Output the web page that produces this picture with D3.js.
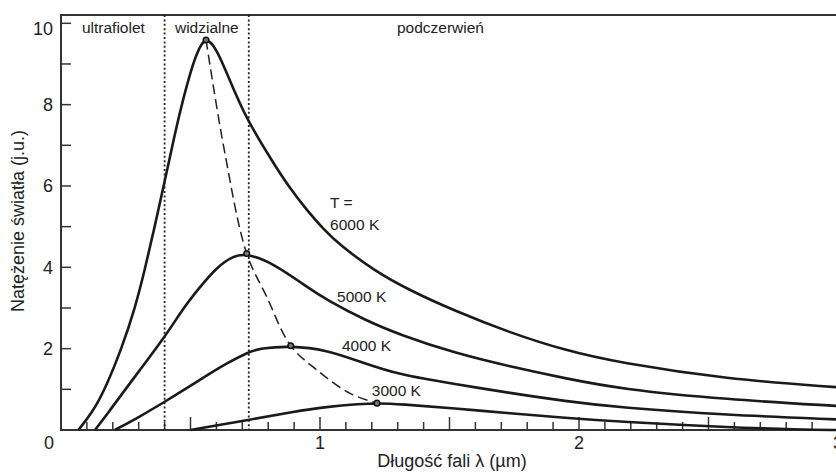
<!DOCTYPE html>
<html>
<head>
<meta charset="utf-8">
<script src="https://cdn.jsdelivr.net/npm/d3@7"></script>
<style>
  body { margin: 0; background: #fff; }
  svg text { font-family: "Liberation Sans", Arial, sans-serif; fill: #222; }
</style>
</head>
<body>
<svg id="chart" width="836" height="473"></svg>
<script>
// wavelength (um) / intensity (a.u.)
var curve6000 = [[0.067, 0], [0.12, 0.42], [0.17, 1.0], [0.234, 2.0], [0.286, 3.0], [0.324, 3.95],
  [0.36, 4.95], [0.40, 6.1], [0.44, 7.3], [0.472, 8.15], [0.50, 8.8], [0.524, 9.26],
  [0.545, 9.52], [0.56, 9.59], [0.583, 9.52], [0.614, 9.18], [0.678, 8.2], [0.723, 7.58],
  [0.82, 6.56], [0.884, 5.94], [0.949, 5.41], [1.013, 4.94], [1.077, 4.55], [1.206, 3.93],
  [1.347, 3.43], [1.52, 2.93], [1.73, 2.4], [1.95, 1.95], [2.15, 1.66], [2.57, 1.25], [3.0, 1.05]];
var curve5000 = [[0.131, 0], [0.189, 0.48], [0.248, 1.0], [0.402, 2.29], [0.472, 3.0], [0.537, 3.52],
  [0.601, 4.0], [0.665, 4.28], [0.717, 4.34], [0.82, 4.1], [0.949, 3.52], [1.026, 3.2],
  [1.174, 2.7], [1.309, 2.34], [1.521, 1.89], [1.734, 1.56], [1.946, 1.27], [2.158, 1.01],
  [2.568, 0.75], [3.0, 0.59]];
var curve4000 = [[0.208, 0], [0.305, 0.33], [0.402, 0.7], [0.479, 1.0], [0.575, 1.39], [0.64, 1.64],
  [0.722, 1.91], [0.768, 2.01], [0.887, 2.07], [1.026, 1.97], [1.154, 1.68], [1.309, 1.35],
  [1.521, 1.13], [1.734, 0.91], [1.946, 0.71], [2.158, 0.55], [2.568, 0.37], [3.0, 0.26]];
var curve3000 = [[0.5, 0], [0.726, 0.25], [0.897, 0.45], [1.026, 0.57], [1.154, 0.64], [1.22, 0.66],
  [1.309, 0.64], [1.521, 0.53], [1.734, 0.41], [1.946, 0.3], [2.158, 0.2], [2.568, 0.07],
  [2.853, 0.01], [3.0, 0]];

// peaks and the dashed line joining them
var peaks = [[0.56, 9.59], [0.717, 4.34], [0.887, 2.07], [1.22, 0.66]];
var wienLine = [[0.56, 9.59], [0.63, 6.9], [0.717, 4.34], [0.794, 3.28], [0.887, 2.07],
  [0.987, 1.48], [1.116, 0.9], [1.22, 0.66]];

var regionBounds = [0.4, 0.725];
var regionLabels = ["ultrafiolet", "widzialne", "podczerwień"];
var tempLabels = ["6000 K", "5000 K", "4000 K", "3000 K"];
var xTickLabels = [1, 2, 3];
var yTickLabels = [2, 4, 6, 8, 10];

var svg = d3.select("#chart");

var x = d3.scaleLinear().domain([0, 3]).range([61, 838]);
var y = d3.scaleLinear().domain([0, 10]).range([430, 23.3]);

// frame: top, left, bottom
svg.append("path")
  .attr("d", "M" + x(3) + "," + 15 + "H" + x(0) + "V" + y(0) + "H" + x(3))
  .attr("fill", "none")
  .attr("stroke", "#333")
  .attr("stroke-width", 2);

// x ticks pointing up (minor every 0.1, major every 0.5)
var xMinor = d3.range(1, 30).map(function(i) { return i / 10; });
svg.append("g")
  .selectAll("line")
  .data(xMinor)
  .enter()
  .append("line")
  .attr("x1", function(d) { return x(d); })
  .attr("x2", function(d) { return x(d); })
  .attr("y1", y(0))
  .attr("y2", function(d, i) { return (i + 1) % 5 === 0 ? y(0) - 13 : y(0) - 8; })
  .attr("stroke", "#333")
  .attr("stroke-width", 1.5);

// y ticks pointing right
svg.append("g")
  .selectAll("line")
  .data(d3.range(1, 11))
  .enter()
  .append("line")
  .attr("x1", x(0))
  .attr("x2", x(0) + 10)
  .attr("y1", function(d) { return y(d); })
  .attr("y2", function(d) { return y(d); })
  .attr("stroke", "#333")
  .attr("stroke-width", 1.5);

// tick labels
svg.append("g")
  .selectAll("text")
  .data(yTickLabels)
  .enter()
  .append("text")
  .attr("x", 53)
  .attr("y", function(d) { return y(d) + (d === 10 ? 5 : 0); })
  .attr("dy", "0.35em")
  .attr("text-anchor", "end")
  .style("font-size", "18px")
  .text(function(d) { return d; });

svg.append("text")
  .attr("x", 49)
  .attr("y", 443)
  .attr("dy", "0.35em")
  .attr("text-anchor", "middle")
  .style("font-size", "18px")
  .text("0");

svg.append("g")
  .selectAll("text")
  .data(xTickLabels)
  .enter()
  .append("text")
  .attr("x", function(d) { return x(d); })
  .attr("y", 443)
  .attr("dy", "0.35em")
  .attr("text-anchor", "middle")
  .style("font-size", "18px")
  .text(function(d) { return d; });

// axis titles
svg.append("text")
  .attr("x", 452)
  .attr("y", 467)
  .attr("text-anchor", "middle")
  .style("font-size", "18px")
  .text("Długość fali λ (µm)");

svg.append("text")
  .attr("transform", "translate(24,221) rotate(-90)")
  .attr("text-anchor", "middle")
  .style("font-size", "18px")
  .text("Natężenie światła (j.u.)");

// visible range boundaries
svg.append("g")
  .selectAll("line")
  .data(regionBounds)
  .enter()
  .append("line")
  .attr("x1", function(d) { return x(d); })
  .attr("x2", function(d) { return x(d); })
  .attr("y1", 15)
  .attr("y2", y(0))
  .attr("stroke", "#222")
  .attr("stroke-width", 1.8)
  .attr("stroke-dasharray", "2,2.4");

var regionX = [0.081, 0.44, 1.297];
svg.append("g")
  .selectAll("text")
  .data(regionLabels)
  .enter()
  .append("text")
  .attr("x", function(d, i) { return x(regionX[i]); })
  .attr("y", 33)
  .style("font-size", "15.5px")
  .text(function(d) { return d; });

// wien dashed line
var line = d3.line()
  .x(function(d) { return x(d[0]); })
  .y(function(d) { return y(d[1]); });

svg.append("path")
  .datum(wienLine)
  .attr("d", line.curve(d3.curveCatmullRom))
  .attr("fill", "none")
  .attr("stroke", "#222")
  .attr("stroke-width", 1.5)
  .attr("stroke-dasharray", "10,5");

// planck curves, smoothed through the read points
var curveLine = d3.line()
  .x(function(d) { return x(d[0]); })
  .y(function(d) { return y(d[1]); })
  .curve(d3.curveBasis);

svg.append("g")
  .selectAll("path")
  .data([curve6000, curve5000, curve4000, curve3000])
  .enter()
  .append("path")
  .attr("d", curveLine)
  .attr("fill", "none")
  .attr("stroke", "#1a1a1a")
  .attr("stroke-width", 2.6);

svg.append("g")
  .selectAll("circle")
  .data(peaks)
  .enter()
  .append("circle")
  .attr("cx", function(d) { return x(d[0]); })
  .attr("cy", function(d) { return y(d[1]); })
  .attr("r", 2.8)
  .attr("fill", "#777")
  .attr("stroke", "#111")
  .attr("stroke-width", 1.5);

// temperature labels
var tempPos = [[1.039, 4.92], [1.066, 3.15], [1.085, 1.95], [1.2, 0.84]];
svg.append("text")
  .attr("x", x(1.039))
  .attr("y", y(5.46))
  .style("font-size", "15.5px")
  .text("T =");

svg.append("g")
  .selectAll("text")
  .data(tempLabels)
  .enter()
  .append("text")
  .attr("x", function(d, i) { return x(tempPos[i][0]); })
  .attr("y", function(d, i) { return y(tempPos[i][1]); })
  .style("font-size", "15.5px")
  .text(function(d) { return d; });
</script>
</body>
</html>
